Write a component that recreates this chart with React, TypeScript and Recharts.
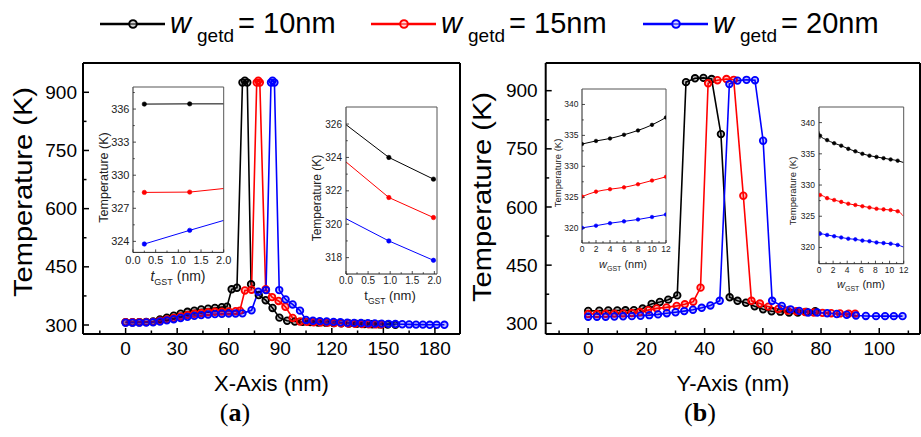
import React from "react";
import { LineChart, Line, XAxis, YAxis } from "recharts";

const SANS = "'Liberation Sans', Arial, Helvetica, sans-serif";
const SERIF = "'Liberation Serif', 'DejaVu Serif', serif";
const BLACK = "#000000";
const RED = "#ff0000";
const BLUE = "#0000ff";

const legendLabels = ["10nm", "15nm", "20nm"];
const legendColors = [BLACK, RED, BLUE];

// ---- panel (a): temperature along X ----
const aBlackX = [0, 4, 8, 12, 16, 20, 24, 28, 32, 36, 40, 44, 48, 52, 56, 59, 61.7, 64.8, 68, 69.4, 70.8, 73, 77.5, 81.5, 85.5, 89.5, 94, 98.5, 103, 107.5, 112, 116.5, 121, 125.5, 130, 134.5, 139, 143.5, 148, 152.5, 157];
const aBlackT = [307, 307, 307.5, 308, 309, 314, 319, 324, 329, 334, 337, 340, 342, 344, 346, 347, 392, 396, 925, 930, 925, 405, 377, 364, 344, 319, 311, 309, 308, 307.5, 306.5, 306, 305, 304.5, 304, 303, 302.5, 302, 301.5, 301, 300.5];
const aRedX = [0, 4, 8, 12, 16, 20, 24, 28, 32, 36, 40, 44, 48, 52, 56, 60, 64, 66.5, 69.4, 73.3, 76.3, 77.2, 78.1, 81.5, 85.2, 89, 93, 97.2, 101.5, 105.5, 109.5, 113.5, 117.5, 121.5, 125.5, 129.5, 133.5, 137.5, 141.5, 145.5, 149];
const aRedT = [307, 307, 307, 307.5, 308, 311, 314, 318, 322, 326, 329, 331, 333, 334, 334.5, 335, 335.5, 337, 389, 391, 925, 930, 925, 392, 372, 362, 347, 318, 309, 308, 307, 306.5, 306, 305, 304.5, 304, 303, 302.5, 302, 301.5, 301];
const aBlueX = [0, 4, 8, 12, 16, 20, 24, 28, 32, 36, 40, 44, 48, 52, 56, 60, 64, 68, 73.3, 77.2, 81.7, 84.6, 85.5, 86.6, 89.4, 93.1, 97.2, 101.5, 105, 109, 113, 117, 121, 125, 129, 133, 137, 141, 145, 149, 153, 157, 161, 165, 169, 173, 177, 181, 185.5];
const aBlueT = [306, 306, 306, 306.5, 307, 309, 312, 315, 318, 321, 323.5, 325.5, 327, 328, 329, 329.5, 329.5, 330, 338, 386, 390, 925, 930, 925, 390, 366, 353, 337, 313, 311, 310, 309, 308, 307, 306, 305.5, 305, 304.5, 304, 303.5, 303, 302.5, 302, 301.5, 301, 301, 300.5, 300.5, 300.5];

// ---- panel (b): temperature along Y ----
const bBlackX = [0, 3.8, 6.9, 10, 12.8, 15.7, 18.7, 21.8, 24.6, 27.5, 30.6, 33.6, 36.7, 39.6, 42.4, 45.6, 48.6, 51.3, 54.2, 57.2, 60.1, 63, 66, 69, 72, 75, 78];
const bBlackT = [332, 332.5, 333, 333, 333.5, 334, 338, 350, 355, 361, 372, 922, 932, 933, 930, 788, 367, 358, 353, 344, 336, 331, 330, 328, 328, 329, 331];
const bRedX = [0, 3, 6, 9, 12, 15, 17.8, 20.6, 23.5, 26.9, 30.4, 33.2, 36.1, 38.6, 41.2, 44.4, 47.5, 50, 53.3, 56.1, 59, 61.9, 65.3, 68.5, 71.5, 74.5, 77.5, 80.5, 83.5, 86.5, 89.5, 91.7];
const bRedT = [324, 324, 324.5, 325, 325.5, 326.5, 329, 334, 338.5, 341, 345, 349, 355.7, 392, 919, 927, 930, 928, 629, 358, 351, 343, 337, 333, 331, 329, 328, 327, 326, 325.5, 325, 325];
const bBlueX = [0, 3, 6, 9, 12, 15, 18, 21, 24, 27, 30, 33, 36, 39, 42, 45.2, 48.5, 51.3, 54.4, 57.3, 60.1, 63.2, 66.5, 69.5, 72.5, 75.6, 78.7, 82.1, 85.4, 88.8, 92, 95.4, 98.9, 102, 105, 108];
const bBlueT = [317, 317, 317, 317.5, 318, 318.5, 319.5, 321, 323, 326, 328.5, 331.5, 335, 340, 346, 358, 917, 926, 928, 927, 771, 358, 345, 336, 332, 328, 328, 326, 324, 322, 320, 319, 318.5, 318.5, 318.5, 318.5];

// ---- inset a1: T vs t_GST ----
const a1X = [0.25, 1.25, 2.25];
const a1Black = [336.45, 336.47, 336.47];
const a1Red = [328.44, 328.47, 328.9];
const a1Blue = [323.76, 325.0, 326.2];

// ---- inset a2: T vs t_GST ----
const a2X = [0, 0.97, 1.98];
const a2Black = [325.96, 324.0, 322.7];
const a2Red = [323.73, 321.6, 320.4];
const a2Blue = [320.33, 319.0, 317.84];

// ---- inset b1: T vs w_GST ----
const b1X = [0, 2, 4, 6, 8, 10, 12];
const b1Black = [333.6, 334.1, 334.5, 335.1, 335.8, 336.7, 337.9];
const b1Red = [325.1, 325.9, 326.3, 326.6, 327.1, 327.7, 328.3];
const b1Blue = [320.05, 320.4, 320.8, 321.1, 321.4, 321.8, 322.2];

// ---- inset b2: T vs w_GST ----
const b2X = [0, 0.15, 1.15, 2.15, 3.15, 4.15, 5.15, 6.15, 7.15, 8.15, 9.15, 10.15, 11.15, 12];
const b2Black = [338.6, 337.9, 337.2, 336.7, 336.3, 335.8, 335.4, 335.0, 334.7, 334.5, 334.3, 334.1, 333.9, 333.6];
const b2Red = [328.4, 328.4, 327.9, 327.6, 327.3, 327.0, 326.8, 326.6, 326.4, 326.2, 326.1, 326.0, 325.8, 325.0];
const b2Blue = [322.2, 322.2, 322.0, 321.8, 321.6, 321.4, 321.3, 321.1, 321.0, 320.8, 320.7, 320.6, 320.4, 320.05];

// ticks
const aXMajor = [0, 30, 60, 90, 120, 150, 180];
const aXMinor = [-15, 15, 45, 75, 105, 135, 165];
const bXMajor = [0, 20, 40, 60, 80, 100];
const bXMinor = [-10, 10, 30, 50, 70, 90, 110];
const tMajor = [300, 450, 600, 750, 900];
const tMinor = [375, 525, 675, 825];
const tgstMajor = [0, 0.5, 1, 1.5, 2];
const tgstMinor = [0.25, 0.75, 1.25, 1.75];
const wgstMajor = [0, 2, 4, 6, 8, 10, 12];
const wgstMinor = [1, 3, 5, 7, 9, 11];
const a1YMajor = [324, 327, 330, 333, 336];
const a1YMinor = [325.5, 328.5, 331.5, 334.5, 337.5];
const a2YMajor = [318, 320, 322, 324, 326];
const a2YMinor = [317, 319, 321, 323, 325];
const bInYMajor = [320, 325, 330, 335, 340];
const bInYMinor = [322.5, 327.5, 332.5, 337.5];

const pts = (xs: number[], ys: number[]) => xs.map((x, i) => ({ x, y: ys[i] }));
const merge = (a: number[], b: number[]) => [...a, ...b].sort((p, q) => p - q);

type TickOpt = {
  side: "left" | "bottom";
  majors: number[];
  fmt: (v: number) => string;
  fontSize: number;
  len: number;
  minorLen: number;
  gap: number;
  color: string;
  sw: number;
};

function makeTick(o: TickOpt) {
  return (props: any) => {
    const { x, y, payload, index } = props;
    const v = payload.value;
    const major = o.majors.some((m) => Math.abs(m - v) < 1e-9);
    const l = major ? o.len : o.minorLen;
    if (o.side === "bottom") {
      return (
        <g key={index}>
          <line x1={x} x2={x} y1={y} y2={y - l} stroke={o.color} strokeWidth={o.sw} />
          {major && (
            <text x={x} y={y + o.gap} textAnchor="middle" fontSize={o.fontSize} fontFamily={SANS} fill={o.color}>
              {o.fmt(v)}
            </text>
          )}
        </g>
      );
    }
    return (
      <g key={index}>
        <line x1={x} x2={x + l} y1={y} y2={y} stroke={o.color} strokeWidth={o.sw} />
        {major && (
          <text x={x - o.gap} y={y + o.fontSize * 0.35} textAnchor="end" fontSize={o.fontSize} fontFamily={SANS} fill={o.color}>
            {o.fmt(v)}
          </text>
        )}
      </g>
    );
  };
}

type Series = { data: { x: number; y: number }[]; color: string };

function MainPanel(p: {
  left: number;
  width: number;
  plotL: number;
  plotR: number;
  xDomain: [number, number];
  yDomain: [number, number];
  xMajor: number[];
  xMinor: number[];
  yGap: number;
  series: Series[];
}) {
  const top = 63;
  const bottom = 334;
  // every axis gets 1px of room so that Recharts draws it
  const margin = { top: top - 1, bottom: 437 - bottom - 1, left: p.plotL - p.left - 1, right: p.left + p.width - p.plotR - 1 };
  const axis = { stroke: "#000", strokeWidth: 2 };
  return (
    <div style={{ position: "absolute", left: p.left, top: 0 }}>
      <LineChart width={p.width} height={437} margin={margin}>
        <XAxis
          type="number"
          dataKey="x"
          domain={p.xDomain}
          ticks={merge(p.xMajor, p.xMinor)}
          interval={0}
          height={1}
          tickSize={0}
          tickMargin={0}
          tickLine={false}
          axisLine={axis}
          allowDataOverflow
          tick={makeTick({ side: "bottom", majors: p.xMajor, fmt: String, fontSize: 19, len: 6, minorLen: 3.5, gap: 21, color: "#000", sw: 1.5 })}
        />
        <YAxis
          type="number"
          domain={p.yDomain}
          ticks={merge(tMajor, tMinor)}
          interval={0}
          width={1}
          tickSize={0}
          tickMargin={0}
          tickLine={false}
          axisLine={axis}
          allowDataOverflow
          tick={makeTick({ side: "left", majors: tMajor, fmt: String, fontSize: 19, len: 6, minorLen: 3.5, gap: p.yGap, color: "#000", sw: 1.5 })}
        />
        <XAxis xAxisId="top" orientation="top" type="number" domain={p.xDomain} height={1} tick={false} tickLine={false} axisLine={axis} />
        <YAxis yAxisId="right" orientation="right" type="number" domain={p.yDomain} width={1} tick={false} tickLine={false} axisLine={axis} />
        {p.series.map((s, i) => (
          <Line
            key={i}
            data={s.data}
            dataKey="y"
            type="linear"
            stroke={s.color}
            strokeWidth={1.6}
            dot={{ r: 3.3, fill: s.color, fillOpacity: 0.25, stroke: s.color, strokeWidth: 1.8 }}
            isAnimationActive={false}
          />
        ))}
      </LineChart>
    </div>
  );
}

function Inset(p: {
  l: number;
  t: number;
  w: number;
  h: number;
  xDomain: [number, number];
  yDomain: [number, number];
  xMajor: number[];
  xMinor: number[];
  yMajor: number[];
  yMinor: number[];
  xFmt: (v: number) => string;
  fontSize: number;
  xGap: number;
  yGap: number;
  curve: "linear" | "monotone";
  dotR: number;
  hideEdge: boolean;
  series: Series[];
}) {
  const padL = 40;
  const padT = 4;
  const padR = 14;
  const padB = 24;
  const axis = { stroke: "#222", strokeWidth: 1 };
  const frame = { stroke: "#555", strokeWidth: 1 };
  const dotFor = (color: string) => (props: any) => {
    const { cx, cy, payload, index } = props;
    if (p.hideEdge && (payload.x <= p.xDomain[0] || payload.x >= p.xDomain[1])) return <g key={index} />;
    return <circle key={index} cx={cx} cy={cy} r={p.dotR} fill={color} stroke={color} strokeWidth={0.6} />;
  };
  return (
    <div style={{ position: "absolute", left: p.l - padL, top: p.t - padT }}>
      <LineChart
        width={p.w + padL + padR}
        height={p.h + padT + padB}
        margin={{ top: padT - 1, left: padL - 1, right: padR - 1, bottom: padB - 1 }}
      >
        <XAxis
          type="number"
          dataKey="x"
          domain={p.xDomain}
          ticks={merge(p.xMajor, p.xMinor)}
          interval={0}
          height={1}
          tickSize={0}
          tickMargin={0}
          tickLine={false}
          axisLine={axis}
          allowDataOverflow
          tick={makeTick({ side: "bottom", majors: p.xMajor, fmt: p.xFmt, fontSize: p.fontSize, len: 3, minorLen: 1.8, gap: p.xGap, color: "#222", sw: 0.8 })}
        />
        <YAxis
          type="number"
          domain={p.yDomain}
          ticks={merge(p.yMajor, p.yMinor)}
          interval={0}
          width={1}
          tickSize={0}
          tickMargin={0}
          tickLine={false}
          axisLine={axis}
          allowDataOverflow
          tick={makeTick({ side: "left", majors: p.yMajor, fmt: String, fontSize: p.fontSize, len: 3, minorLen: 1.8, gap: p.yGap, color: "#222", sw: 0.8 })}
        />
        <XAxis xAxisId="top" orientation="top" type="number" domain={p.xDomain} height={1} tick={false} tickLine={false} axisLine={frame} />
        <YAxis yAxisId="right" orientation="right" type="number" domain={p.yDomain} width={1} tick={false} tickLine={false} axisLine={frame} />
        {p.series.map((s, i) => (
          <Line
            key={i}
            data={s.data}
            dataKey="y"
            type={p.curve}
            stroke={s.color}
            strokeWidth={1}
            dot={dotFor(s.color)}
            isAnimationActive={false}
          />
        ))}
      </LineChart>
    </div>
  );
}

function Overlay() {
  const legendX = [100, 371, 643];
  return (
    <svg width={921} height={437} style={{ position: "absolute", left: 0, top: 0, pointerEvents: "none" }} fontFamily={SANS}>
      {legendLabels.map((lab, i) => {
        const x0 = legendX[i];
        const c = legendColors[i];
        return (
          <g key={lab}>
            <line x1={x0} x2={x0 + 65} y1={24} y2={24} stroke={c} strokeWidth={2.5} />
            <circle cx={x0 + 33} cy={24} r={3.8} fill="#fff" fillOpacity={0.4} stroke={c} strokeWidth={2} />
            <text x={x0 + 70} y={33} fontSize={29} fontStyle="italic">w</text>
            <text x={x0 + 97} y={42} fontSize={19}>getd</text>
            <text x={x0 + 138} y={33} fontSize={29}>= {lab}</text>
          </g>
        );
      })}

      <text transform="translate(32,192) rotate(-90)" textAnchor="middle" fontSize={25} textLength={210} lengthAdjust="spacingAndGlyphs">Temperature (K)</text>
      <text transform="translate(491,197) rotate(-90)" textAnchor="middle" fontSize={25} textLength={210} lengthAdjust="spacingAndGlyphs">Temperature (K)</text>
      <text x={271.5} y={391} textAnchor="middle" fontSize={22}>X-Axis (nm)</text>
      <text x={733} y={391} textAnchor="middle" fontSize={22}>Y-Axis (nm)</text>

      <text x={235} y={421} textAnchor="middle" fontSize={26} fontFamily={SERIF}>
        (<tspan fontWeight="bold">a</tspan>)
      </text>
      <text x={700} y={421} textAnchor="middle" fontSize={26} fontFamily={SERIF}>
        (<tspan fontWeight="bold">b</tspan>)
      </text>

      {/* inset titles */}
      <text transform="translate(107.5,177.5) rotate(-90)" textAnchor="middle" fontSize={12.5} fill="#222">Temperature (K)</text>
      <text x={178} y={281} textAnchor="middle" fontSize={14} fill="#222">
        <tspan fontStyle="italic">t</tspan>
        <tspan fontSize={9} dy={4}>GST</tspan>
        <tspan dy={-4}> (nm)</tspan>
      </text>
      <text transform="translate(321,198) rotate(-90)" textAnchor="middle" fontSize={12} fill="#222">Temperature (K)</text>
      <text x={390} y={300} textAnchor="middle" fontSize={13} fill="#222">
        <tspan>t</tspan>
        <tspan fontSize={8.5} dy={4}>GST</tspan>
        <tspan dy={-4}> (nm)</tspan>
      </text>
      <text transform="translate(561,173) rotate(-90)" textAnchor="middle" fontSize={9.5} fill="#222">Temperature (K)</text>
      <text x={623} y={268} textAnchor="middle" fontSize={11} fill="#222">
        <tspan fontStyle="italic">w</tspan>
        <tspan fontSize={7} dy={3}>GST</tspan>
        <tspan dy={-3}> (nm)</tspan>
      </text>
      <text transform="translate(796,191) rotate(-90)" textAnchor="middle" fontSize={9.5} fill="#222">Temperature (K)</text>
      <text x={861} y={288} textAnchor="middle" fontSize={11} fill="#222">
        <tspan fontStyle="italic">w</tspan>
        <tspan fontSize={7} dy={3}>GST</tspan>
        <tspan dy={-3}> (nm)</tspan>
      </text>
    </svg>
  );
}

export default function App() {
  const aSeries: Series[] = [
    { data: pts(aBlackX, aBlackT), color: BLACK },
    { data: pts(aRedX, aRedT), color: RED },
    { data: pts(aBlueX, aBlueT), color: BLUE },
  ];
  const bSeries: Series[] = [
    { data: pts(bBlackX, bBlackT), color: BLACK },
    { data: pts(bRedX, bRedT), color: RED },
    { data: pts(bBlueX, bBlueT), color: BLUE },
  ];
  const tri = (xs: number[], k: number[], r: number[], b: number[]): Series[] => [
    { data: pts(xs, k), color: BLACK },
    { data: pts(xs, r), color: RED },
    { data: pts(xs, b), color: BLUE },
  ];
  const fmt1 = (v: number) => v.toFixed(1);

  return (
    <div style={{ position: "absolute", left: 0, top: 0, width: 921, height: 437, background: "#fff", overflow: "hidden", fontFamily: SANS }}>
      <MainPanel left={0} width={470} plotL={83} plotR={460} xDomain={[-24.8, 194.6]} yDomain={[276.8, 975.5]} xMajor={aXMajor} xMinor={aXMinor} yGap={6} series={aSeries} />
      <MainPanel left={470} width={451} plotL={545.7} plotR={920} xDomain={[-14.6, 114]} yDomain={[272.4, 971.4]} xMajor={bXMajor} xMinor={bXMinor} yGap={8} series={bSeries} />

      <Inset l={133.3} t={87.3} w={90.7} h={165.4} xDomain={[0, 2]} yDomain={[323, 338]} xMajor={tgstMajor} xMinor={tgstMinor} yMajor={a1YMajor} yMinor={a1YMinor} xFmt={fmt1} fontSize={11} xGap={11.5} yGap={3.5} curve="linear" dotR={2.2} hideEdge={false} series={tri(a1X, a1Black, a1Red, a1Blue)} />
      <Inset l={345.7} t={107.3} w={91} h={167} xDomain={[0, 2.06]} yDomain={[317.02, 327.02]} xMajor={tgstMajor} xMinor={tgstMinor} yMajor={a2YMajor} yMinor={a2YMinor} xFmt={fmt1} fontSize={10} xGap={10} yGap={4} curve="linear" dotR={2.2} hideEdge={true} series={tri(a2X, a2Black, a2Red, a2Blue)} />
      <Inset l={581.7} t={89.3} w={84} h={154} xDomain={[0, 12]} yDomain={[317.6, 342.5]} xMajor={wgstMajor} xMinor={wgstMinor} yMajor={bInYMajor} yMinor={bInYMinor} xFmt={String} fontSize={8.5} xGap={9} yGap={3.5} curve="monotone" dotR={1.8} hideEdge={false} series={tri(b1X, b1Black, b1Red, b1Blue)} />
      <Inset l={819} t={107.3} w={84.7} h={156.7} xDomain={[0, 12]} yDomain={[317.4, 342.5]} xMajor={wgstMajor} xMinor={wgstMinor} yMajor={bInYMajor} yMinor={bInYMinor} xFmt={String} fontSize={8.5} xGap={9.3} yGap={4} curve="monotone" dotR={1.8} hideEdge={true} series={tri(b2X, b2Black, b2Red, b2Blue)} />

      <Overlay />
    </div>
  );
}
